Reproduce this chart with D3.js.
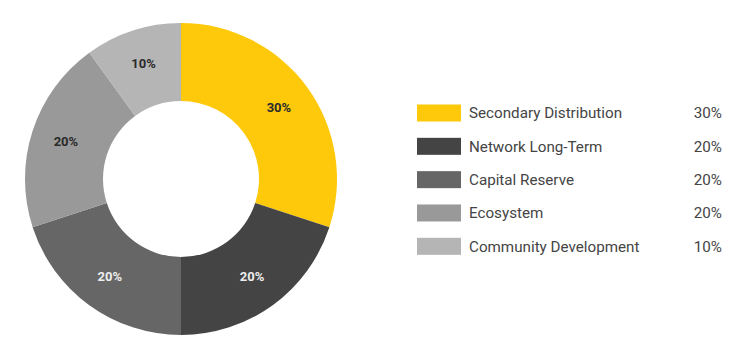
<!DOCTYPE html>
<html lang="en">
    <head>
        <meta charset="utf-8">
        <title>Token Distribution</title>
        <script src="https://d3js.org/d3.v7.min.js"></script>
        <style type="text/css">
            html, body {
                margin: 0;
                background-color: white;
            }
            .labels {
                font-size: 13px;
                font-weight: 700;
                font-family: Roboto, sans-serif;
            }
            .legend {
                font-size: 15.2px;
                font-family: Roboto, sans-serif;
                fill: #444;
            }
        </style>
    </head>
    <body>
        <script type="text/javascript">
            const categories = ["Secondary Distribution", "Network Long-Term", "Capital Reserve", "Ecosystem", "Community Development"];
            const amounts = [30, 20, 20, 20, 10];
            const colors = ["#ffc90b", "#444444", "#666666", "#999999", "#b5b5b5"];
            const labelColors = ["#2a2a2a", "#eeeeee", "#eeeeee", "#2a2a2a", "#2a2a2a"];

            const data = categories.map((c, i) => ({part: c, amount: amounts[i]}));

            const w = 742, h = 351;
            const cx = 181, cy = 179;
            const outerRadius = 156, innerRadius = 78;

            const myColor = d3.scaleOrdinal().domain(categories).range(colors);
            const textColor = d3.scaleOrdinal().domain(categories).range(labelColors);

            const arc = d3.arc()
                          .innerRadius(innerRadius)
                          .outerRadius(outerRadius);

            // labels sit a little outside the ring's middle
            const labelArc = d3.arc()
                               .innerRadius(121)
                               .outerRadius(121);

            const pie = d3.pie().value(d => d.amount).sort(null);

            const svg = d3.select("body").append("svg")
                            .attr("width", w)
                            .attr("height", h);

            const groups = svg.selectAll("g.arc")
                              .data(pie(data))
                              .enter()
                              .append("g")
                              .attr("class", "arc")
                              .attr("transform", "translate(" + cx + "," + cy + ")");

            groups.append("path")
                  .attr("fill", d => myColor(d.data.part))
                  .attr("d", arc);

            groups.append("text")
                  .attr("transform", d => "translate(" + labelArc.centroid(d) + ")")
                  .attr("text-anchor", "middle")
                  .attr("dy", "0.35em")
                  .attr("class", "labels")
                  .attr("fill", d => textColor(d.data.part))
                  .text(d => d.data.amount + "%");

            // legend
            const y = d3.scalePoint().domain(categories).range([113, 246.3]);

            const legend = svg.selectAll("g.legend")
                              .data(data)
                              .enter()
                              .append("g")
                              .attr("class", "legend")
                              .attr("transform", d => "translate(0," + y(d.part) + ")");

            legend.append("rect")
                  .attr("x", 417)
                  .attr("y", -8.5)
                  .attr("width", 44)
                  .attr("height", 17)
                  .attr("fill", d => myColor(d.part));

            legend.append("text")
                  .attr("x", 469)
                  .attr("dy", "0.35em")
                  .text(d => d.part);

            legend.append("text")
                  .attr("x", 722)
                  .attr("dy", "0.35em")
                  .attr("text-anchor", "end")
                  .text(d => d.amount + "%");
        </script>
    </body>
</html>
